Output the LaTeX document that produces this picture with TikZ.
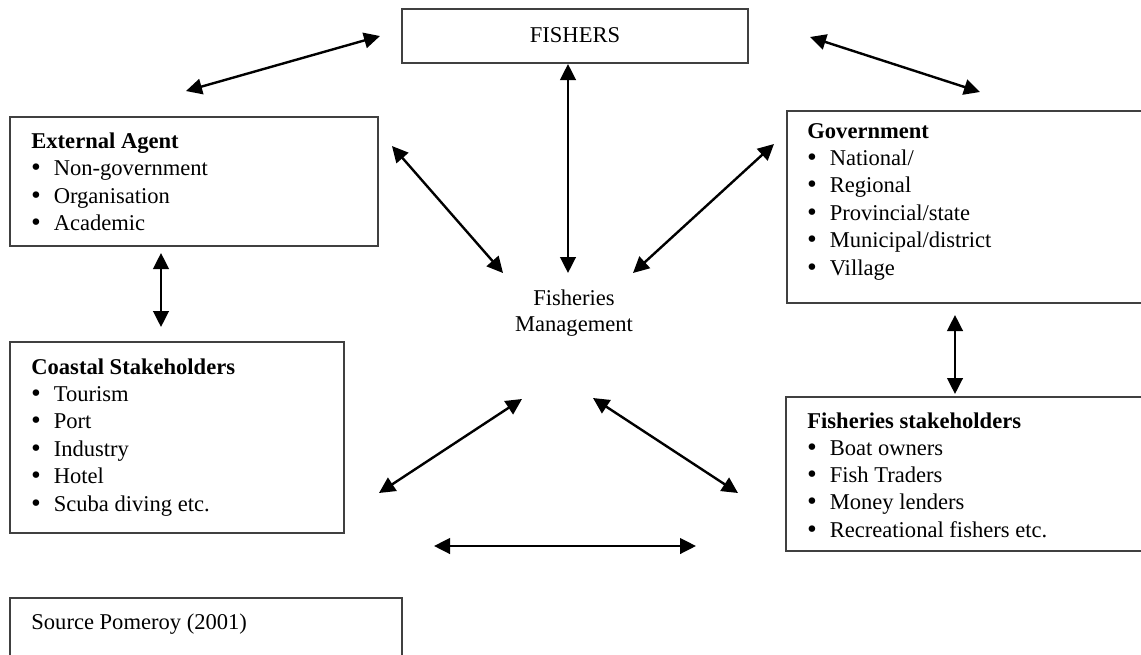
\documentclass[tikz,border=0pt]{standalone}
\usepackage{fontspec}
\setmainfont{Liberation Serif}
\newfontfamily\bulletfont{DejaVu Sans}
\usetikzlibrary{arrows.meta,fit}
% round bullet followed by a fixed indent, as in a word-processor list
\newcommand\itembullet{\makebox[11.2pt][l]{\hspace{-1pt}{\bulletfont\textbullet}}}
\begin{document}
\begin{tikzpicture}[x=0.5pt,y=-0.5pt,
  box/.style={draw=black!75, line width=0.65pt, inner sep=0pt},
  txt/.style={anchor=base west, inner sep=0pt, font=\fontsize{11.28}{13.8}\selectfont},
  ctxt/.style={anchor=base, inner sep=0pt, font=\fontsize{11.28}{13.8}\selectfont},
  link/.style={arrows={Triangle[length=8pt,width=7.8pt]-Triangle[length=8pt,width=7.8pt]}, line width=1.2pt}]
\useasboundingbox (0,0) rectangle (1141,654);
\clip (0,0) rectangle (1141,654);

% ---- boxes ----
\node[box, fit={(402,9)(748,63)}] (fishers) {};
\node[box, fit={(10,117)(378,246)}] (ext) {};
\node[box, fit={(787,111)(1160,303)}] (gov) {};
\node[box, fit={(10,342)(344,533)}] (coast) {};
\node[box, fit={(786,397)(1160,551)}] (fstake) {};
\node[box, fit={(10,598)(402,680)}] (source) {};

% ---- texts ----
\node[ctxt] (fishers-t) at (575,42) {FISHERS};
\node[ctxt] (fm-1) at (574,305) {Fisheries};
\node[ctxt] (fm-2) at (574,331) {Management};

\node[txt] (ext-h) at (31,148) {\textbf{External Agent}};
\foreach \t [count=\i] in {Non-government, Organisation, Academic}
  \node[txt] (ext-\i) at (31,{148+27.6*\i}) {\itembullet\t};

\node[txt] (gov-h) at (807,138) {\textbf{Government}};
\foreach \t [count=\i] in {National/, Regional, Provincial/state, Municipal/district, Village}
  \node[txt] (gov-\i) at (807,{138+27.4*\i}) {\itembullet\t};

\node[txt] (coast-h) at (31,374) {\textbf{Coastal Stakeholders}};
\foreach \t [count=\i] in {Tourism, Port, Industry, Hotel, Scuba diving etc.}
  \node[txt] (coast-\i) at (31,{374+27.4*\i}) {\itembullet\t};

\node[txt] (fstake-h) at (807,428) {\textbf{Fisheries stakeholders}};
\foreach \t [count=\i] in {Boat owners, Fish Traders, Money lenders, Recreational fishers etc.}
  \node[txt] (fstake-\i) at (807,{428+27.3*\i}) {\itembullet\t};

\node[txt] (source-t) at (31,629) {Source Pomeroy (2001)};

% ---- connector end points ----
\coordinate (c1-a) at (186,91);  \coordinate (c1-b) at (380,36);
\coordinate (c2-a) at (810,37);  \coordinate (c2-b) at (980,92);
\coordinate (c3-a) at (568,64);  \coordinate (c3-b) at (568,273);
\coordinate (c4-a) at (392,146); \coordinate (c4-b) at (503,273);
\coordinate (c5-a) at (633,273); \coordinate (c5-b) at (774,144);
\coordinate (c6-a) at (161,253); \coordinate (c6-b) at (161,327);
\coordinate (c7-a) at (955,315); \coordinate (c7-b) at (955,394);
\coordinate (c8-a) at (379,493); \coordinate (c8-b) at (522,399);
\coordinate (c9-a) at (593,398); \coordinate (c9-b) at (738,493);
\coordinate (c10-a) at (434,546); \coordinate (c10-b) at (696,546);

% ---- connectors ----
\foreach \k in {1,...,10}
  \draw[link] (c\k-a) -- (c\k-b);
\end{tikzpicture}
\end{document}
